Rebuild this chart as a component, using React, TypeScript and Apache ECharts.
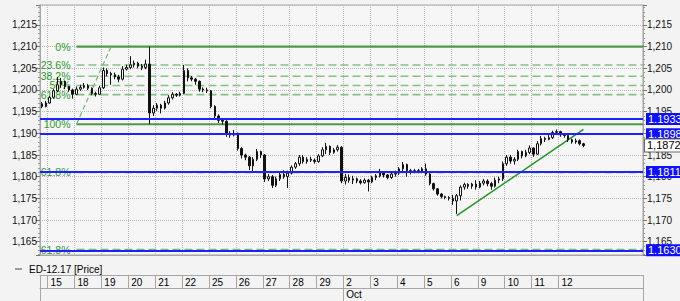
import React, { useEffect, useRef } from 'react';
import * as echarts from 'echarts';

// ---------------- data ----------------
const seriesName = 'ED-12.17 [Price]';
const days = ['15', '18', '19', '20', '21', '22', '25', '26', '27', '28', '29', '2', '3', '4', '5', '6', '9', '10', '11', '12'];
const monthLabel = 'Oct';
const monthStartDay = '2';
const barsPerDay = 7;
const leadBars = 2; // bars of Sep 14 shown before the first labelled day
const futureBars = 15; // empty room on the right of the last bar

// candles: [open, close, low, high]
const sep14to15 = [
  [1.1968, 1.1962, 1.1958, 1.1972], [1.1962, 1.1970, 1.1960, 1.1975],
  [1.1970, 1.1983, 1.1968, 1.1986], [1.1983, 1.1998, 1.1980, 1.2002], [1.1998, 1.2012, 1.1995, 1.2030],
  [1.2012, 1.2020, 1.2005, 1.2028], [1.2020, 1.2008, 1.2002, 1.2022], [1.2008, 1.2000, 1.1996, 1.2010],
  [1.2000, 1.1990, 1.1980, 1.2003],
];
const sep18to22 = [
  [1.1990, 1.2002, 1.1988, 1.2008], [1.2002, 1.2006, 1.1998, 1.2012], [1.2006, 1.2010, 1.2003, 1.2016],
  [1.2010, 1.2004, 1.2000, 1.2014], [1.2004, 1.1992, 1.1988, 1.2006], [1.1992, 1.1990, 1.1985, 1.1996],
  [1.1990, 1.2005, 1.1988, 1.2010],
  [1.2005, 1.2045, 1.2002, 1.2052], [1.2045, 1.2038, 1.2032, 1.2050], [1.2038, 1.2035, 1.2012, 1.2042],
  [1.2035, 1.2030, 1.2025, 1.2040], [1.2030, 1.2025, 1.2018, 1.2035], [1.2025, 1.2048, 1.2022, 1.2055],
  [1.2048, 1.2052, 1.2045, 1.2058],
  [1.2052, 1.2058, 1.2048, 1.2078], [1.2058, 1.2062, 1.2052, 1.2068], [1.2062, 1.2055, 1.2050, 1.2065],
  [1.2055, 1.2052, 1.2046, 1.2060], [1.2052, 1.2060, 1.2048, 1.2070], [1.2060, 1.1947, 1.1921, 1.2100],
  [1.1947, 1.1958, 1.1940, 1.1965],
  [1.1958, 1.1965, 1.1952, 1.1970], [1.1965, 1.1958, 1.1946, 1.1968], [1.1958, 1.1970, 1.1955, 1.1975],
  [1.1970, 1.1982, 1.1966, 1.1988], [1.1982, 1.1990, 1.1978, 1.1995], [1.1990, 1.1988, 1.1984, 1.1993],
  [1.1988, 1.1992, 1.1985, 1.1996],
  [1.1992, 1.2045, 1.1990, 1.2058], [1.2045, 1.2028, 1.2020, 1.2050], [1.2028, 1.2025, 1.2020, 1.2032],
  [1.2025, 1.2020, 1.2012, 1.2028], [1.2020, 1.2002, 1.1996, 1.2022], [1.2002, 1.2000, 1.1995, 1.2006],
  [1.2000, 1.1998, 1.1993, 1.2005],
];
const sep25to29 = [
  [1.1998, 1.1962, 1.1958, 1.2000], [1.1962, 1.1940, 1.1935, 1.1965], [1.1940, 1.1930, 1.1924, 1.1944],
  [1.1930, 1.1928, 1.1920, 1.1935], [1.1928, 1.1900, 1.1892, 1.1930], [1.1900, 1.1896, 1.1890, 1.1905],
  [1.1896, 1.1900, 1.1893, 1.1908],
  [1.1900, 1.1865, 1.1860, 1.1902], [1.1865, 1.1850, 1.1842, 1.1868], [1.1850, 1.1845, 1.1838, 1.1853],
  [1.1845, 1.1825, 1.1815, 1.1848], [1.1825, 1.1840, 1.1812, 1.1845], [1.1840, 1.1858, 1.1836, 1.1864],
  [1.1858, 1.1850, 1.1843, 1.1860],
  [1.1850, 1.1795, 1.1788, 1.1852], [1.1795, 1.1800, 1.1790, 1.1806], [1.1800, 1.1780, 1.1774, 1.1804],
  [1.1780, 1.1795, 1.1776, 1.1800], [1.1795, 1.1805, 1.1790, 1.1810], [1.1805, 1.1800, 1.1795, 1.1815],
  [1.1800, 1.1808, 1.1774, 1.1814],
  [1.1808, 1.1822, 1.1805, 1.1826], [1.1822, 1.1830, 1.1818, 1.1834], [1.1830, 1.1845, 1.1825, 1.1850],
  [1.1845, 1.1835, 1.1830, 1.1850], [1.1835, 1.1840, 1.1830, 1.1845], [1.1840, 1.1838, 1.1834, 1.1846],
  [1.1838, 1.1835, 1.1830, 1.1842],
  [1.1835, 1.1848, 1.1832, 1.1852], [1.1848, 1.1862, 1.1845, 1.1868], [1.1862, 1.1870, 1.1852, 1.1878],
  [1.1870, 1.1856, 1.1850, 1.1872], [1.1856, 1.1862, 1.1853, 1.1866], [1.1862, 1.1868, 1.1858, 1.1873],
  [1.1868, 1.1790, 1.1785, 1.1870],
];
const oct2to6 = [
  [1.1790, 1.1798, 1.1782, 1.1806], [1.1798, 1.1792, 1.1786, 1.1805], [1.1792, 1.1795, 1.1783, 1.1802],
  [1.1795, 1.1790, 1.1785, 1.1798], [1.1790, 1.1786, 1.1782, 1.1794], [1.1786, 1.1792, 1.1784, 1.1796],
  [1.1792, 1.1788, 1.1766, 1.1795],
  [1.1788, 1.1798, 1.1785, 1.1802], [1.1798, 1.1802, 1.1792, 1.1806], [1.1802, 1.1810, 1.1798, 1.1818],
  [1.1810, 1.1804, 1.1798, 1.1812], [1.1804, 1.1798, 1.1794, 1.1806], [1.1798, 1.1806, 1.1795, 1.1810],
  [1.1806, 1.1808, 1.1800, 1.1814],
  [1.1808, 1.1818, 1.1804, 1.1822], [1.1818, 1.1828, 1.1810, 1.1834], [1.1828, 1.1814, 1.1800, 1.1830],
  [1.1814, 1.1810, 1.1805, 1.1818], [1.1810, 1.1814, 1.1808, 1.1818], [1.1814, 1.1812, 1.1808, 1.1818],
  [1.1812, 1.1818, 1.1808, 1.1822],
  [1.1818, 1.1806, 1.1802, 1.1830], [1.1806, 1.1784, 1.1780, 1.1808], [1.1784, 1.1772, 1.1768, 1.1786],
  [1.1772, 1.1760, 1.1756, 1.1774], [1.1760, 1.1754, 1.1750, 1.1762], [1.1754, 1.1752, 1.1748, 1.1756],
  [1.1752, 1.1750, 1.1745, 1.1755],
  [1.1750, 1.1744, 1.1735, 1.1758], [1.1744, 1.1756, 1.1714, 1.1760], [1.1756, 1.1776, 1.1745, 1.1780],
  [1.1776, 1.1782, 1.1770, 1.1786], [1.1782, 1.1778, 1.1772, 1.1785], [1.1778, 1.1783, 1.1772, 1.1786],
  [1.1783, 1.1776, 1.1770, 1.1792],
];
const oct9to12 = [
  [1.1776, 1.1785, 1.1773, 1.1790], [1.1785, 1.1790, 1.1780, 1.1795], [1.1790, 1.1784, 1.1778, 1.1794],
  [1.1784, 1.1778, 1.1770, 1.1788], [1.1778, 1.1792, 1.1775, 1.1798], [1.1792, 1.1795, 1.1785, 1.1800],
  [1.1795, 1.1830, 1.1790, 1.1835],
  [1.1830, 1.1845, 1.1825, 1.1850], [1.1845, 1.1836, 1.1830, 1.1850], [1.1836, 1.1840, 1.1828, 1.1845],
  [1.1840, 1.1858, 1.1836, 1.1862], [1.1858, 1.1848, 1.1842, 1.1860], [1.1848, 1.1856, 1.1845, 1.1862],
  [1.1856, 1.1866, 1.1852, 1.1872],
  [1.1866, 1.1852, 1.1846, 1.1868], [1.1852, 1.1876, 1.1850, 1.1882], [1.1876, 1.1888, 1.1872, 1.1894],
  [1.1888, 1.1886, 1.1880, 1.1892], [1.1886, 1.1890, 1.1884, 1.1896], [1.1890, 1.1902, 1.1887, 1.1906],
  [1.1902, 1.1904, 1.1898, 1.1909],
  [1.1904, 1.1897, 1.1892, 1.1906], [1.1897, 1.1895, 1.1890, 1.1900], [1.1895, 1.1885, 1.1880, 1.1897],
  [1.1885, 1.1880, 1.1876, 1.1888], [1.1880, 1.1883, 1.1876, 1.1888], [1.1883, 1.1876, 1.1872, 1.1886],
  [1.1876, 1.1872, 1.1868, 1.1878],
];

// horizontal price lines (blue) and last price
const priceLines = [1.1933, 1.1898, 1.1811, 1.1630];
const lastPrice = 1.1872;

// Fibonacci tool: anchors in (bar index, price)
const fibStart = [9.45, 1.1921];
const fibEnd = [18.2, 1.2100];
const fibPercents = [0, 23.6, 38.2, 50, 61.8, 100, 161.8, 261.8];
const fibSolidPercents = [0, 100];

// trend line: (bar index, price)
const trendStart = [108.4, 1.1710];
const trendEnd = [141.4, 1.1909];

// visible price range of the plot
const yMin = 1.16193;
const yMax = 1.21961;

// ---------------- derived ----------------
const candles = [...sep14to15, ...sep18to22, ...sep25to29, ...oct2to6, ...oct9to12];
const totalBars = candles.length + futureBars;
const slotKeys = Array.from({ length: totalBars }, (_, i) => 'b' + i);
const isDayStart = (i: number) =>
  i >= leadBars && (i - leadBars) % barsPerDay === 0 && (i - leadBars) / barsPerDay < days.length;
const dayLabelAt = (i: number) => (isDayStart(i) ? days[(i - leadBars) / barsPerDay] : '');
const monthSlot = leadBars + days.indexOf(monthStartDay) * barsPerDay;

const fibHigh = fibEnd[1];
const fibLow = fibStart[1];
const fibLevels = fibPercents.map((p) => ({
  p,
  v: fibHigh - (fibHigh - fibLow) * p / 100,
}));

const FONT = '"Liberation Sans", Arial, sans-serif';
const GRID_C = '#b9b9b9';
const AXIS_C = '#a6a6a6';

const fmtComma = (v: number, d: number) => v.toFixed(d).replace('.', ',');

export default function App() {
  const ref = useRef<HTMLDivElement>(null);
  useEffect(() => {
    if (!ref.current) return;
    const chart = echarts.init(ref.current, null, { renderer: 'svg' });

    type Drawing = { kind: string; idx: number };
    const drawings: Drawing[] = [
      ...fibLevels.map((_, idx) => ({ kind: 'fib', idx })),
      { kind: 'diag', idx: 0 },
      { kind: 'trend', idx: 0 },
    ];

    const yAxisCommon = {
      type: 'value',
      min: yMin,
      max: yMax,
      splitNumber: 12,
      scale: true,
      axisLine: { show: true, lineStyle: { color: AXIS_C } },
      axisTick: { show: true, length: 4, lineStyle: { color: '#777' } },
      minorTick: { show: true, splitNumber: 5, length: 2, lineStyle: { color: '#999' } },
      axisLabel: {
        formatter: (v: number) => fmtComma(v, 3),
        showMinLabel: false,
        showMaxLabel: false,
        fontSize: 10,
        color: '#111',
        fontFamily: FONT,
      },
    };

    const boxLabel = {
      show: true,
      position: 'end',
      distance: 3,
      padding: [1, 2, 0, 2],
      fontSize: 11,
      fontFamily: FONT,
    };

    chart.setOption({
      animation: false,
      backgroundColor: '#f3f3f3',
      textStyle: { fontFamily: FONT },
      legend: {
        left: 10,
        top: 259,
        icon: 'rect',
        itemWidth: 7,
        itemHeight: 1,
        itemStyle: { color: '#444', borderWidth: 0 },
        textStyle: { fontSize: 10, color: '#000', padding: [0, 0, 0, 2], fontFamily: FONT },
        data: [seriesName],
        selectedMode: false,
      },
      grid: {
        left: 40,
        right: 37,
        top: 5,
        bottom: 46,
        show: true,
        backgroundColor: '#f6f6f6',
        borderColor: AXIS_C,
        borderWidth: 1,
      },
      xAxis: [
        {
          type: 'category',
          data: slotKeys,
          boundaryGap: true,
          axisLine: { show: true, lineStyle: { color: AXIS_C } },
          axisTick: { show: false },
          axisLabel: { show: false },
          splitLine: {
            show: true,
            interval: (i: number) => isDayStart(i),
            lineStyle: { color: GRID_C, type: 'dotted', width: 1 },
          },
        },
        {
          type: 'category',
          data: slotKeys,
          position: 'bottom',
          offset: 20,
          boundaryGap: true,
          axisLine: { show: true, lineStyle: { color: AXIS_C } },
          axisTick: {
            show: true,
            length: 13,
            interval: (i: number) => i === 0 || isDayStart(i),
            lineStyle: { color: AXIS_C },
          },
          axisLabel: {
            show: true,
            interval: 0,
            formatter: (_v: string, i: number) => dayLabelAt(i),
            align: 'left',
            margin: 2,
            padding: [0, 0, 0, 1],
            fontSize: 10,
            color: '#000',
            fontFamily: FONT,
          },
          splitLine: { show: false },
        },
        {
          type: 'category',
          data: slotKeys,
          position: 'bottom',
          offset: 33,
          boundaryGap: true,
          axisLine: { show: true, lineStyle: { color: AXIS_C } },
          axisTick: {
            show: true,
            length: 13,
            interval: (i: number) => i === 0 || i === monthSlot,
            lineStyle: { color: AXIS_C },
          },
          axisLabel: {
            show: true,
            interval: 0,
            formatter: (_v: string, i: number) => (i === monthSlot ? monthLabel : ''),
            align: 'left',
            margin: 1,
            padding: [0, 0, 0, 1],
            fontSize: 10,
            color: '#000',
            fontFamily: FONT,
          },
          splitLine: { show: false },
        },
      ],
      yAxis: [
        {
          ...yAxisCommon,
          position: 'left',
          axisLabel: { ...yAxisCommon.axisLabel, margin: 3 },
          splitLine: { show: true, lineStyle: { color: GRID_C, type: 'dotted', width: 1 } },
        },
        {
          ...yAxisCommon,
          position: 'right',
          axisLabel: { ...yAxisCommon.axisLabel, margin: 4 },
          splitLine: { show: false },
        },
      ],
      series: [
        {
          type: 'custom',
          name: 'drawings',
          xAxisIndex: 0,
          yAxisIndex: 0,
          clip: true,
          silent: true,
          data: drawings.map((_, i) => [0, yMin, i]),
          encode: { x: 0, y: 1 },
          renderItem: (params: any, api: any) => {
            const d = drawings[params.dataIndex];
            const cs = params.coordSys;
            const right = cs.x + cs.width;
            if (d.kind === 'fib') {
              const lv = fibLevels[d.idx];
              const p = api.coord([fibStart[0], lv.v]);
              const solid = fibSolidPercents.includes(lv.p);
              const ext = lv.p > 100;
              return {
                type: 'group',
                children: [
                  {
                    type: 'line',
                    shape: { x1: p[0], y1: p[1], x2: right, y2: p[1] },
                    style: solid
                      ? { stroke: '#4a9c4a', lineWidth: 2.2 }
                      : ext
                      ? { stroke: '#6cbf6c', lineWidth: 2, lineDash: [8, 4] }
                      : { stroke: '#88c088', lineWidth: 1.6, lineDash: [8, 4] },
                  },
                  {
                    type: 'text',
                    x: p[0] - 6,
                    y: p[1],
                    style: {
                      text: lv.p + '%',
                      fill: '#2c9a2c',
                      font: '10.5px ' + FONT,
                      align: 'right',
                      verticalAlign: 'middle',
                      textAlign: 'right',
                      textVerticalAlign: 'middle',
                    },
                  },
                ],
              };
            }
            if (d.kind === 'diag') {
              const a = api.coord(fibStart);
              const b = api.coord(fibEnd);
              return {
                type: 'line',
                shape: { x1: a[0], y1: a[1], x2: b[0], y2: b[1] },
                style: { stroke: '#6fb86f', lineWidth: 1.2, lineDash: [5, 3] },
              };
            }
            const a = api.coord(trendStart);
            const b = api.coord(trendEnd);
            return {
              type: 'line',
              shape: { x1: a[0], y1: a[1], x2: b[0], y2: b[1] },
              style: { stroke: '#1e961e', lineWidth: 1.5 },
            };
          },
        },
        {
          type: 'candlestick',
          name: seriesName,
          xAxisIndex: 0,
          yAxisIndex: 0,
          data: candles,
          barWidth: 2,
          itemStyle: {
            color: '#ffffff',
            color0: '#111111',
            borderColor: '#111111',
            borderColor0: '#111111',
            borderWidth: 1,
          },
          markLine: {
            symbol: 'none',
            silent: true,
            animation: false,
            precision: 4,
            data: [
              ...priceLines.map((v) => ({
                yAxis: v,
                lineStyle: { color: '#1f1fff', width: 2, type: 'solid' },
                label: {
                  ...boxLabel,
                  formatter: v.toFixed(4),
                  color: '#ffffff',
                  backgroundColor: '#0f0fff',
                },
              })),
              {
                yAxis: lastPrice,
                lineStyle: { color: 'rgba(0,0,0,0)', width: 0 },
                label: {
                  ...boxLabel,
                  distance: 2,
                  formatter: fmtComma(lastPrice, 4),
                  color: '#000',
                  backgroundColor: '#ffffff',
                  borderColor: '#666',
                  borderWidth: 1,
                },
              },
            ],
          },
        },
      ],
    });
    return () => chart.dispose();
  }, []);
  return (
    <div
      ref={ref}
      style={{ position: 'absolute', left: 0, top: 0, width: 680, height: 301, background: '#f3f3f3' }}
    />
  );
}
